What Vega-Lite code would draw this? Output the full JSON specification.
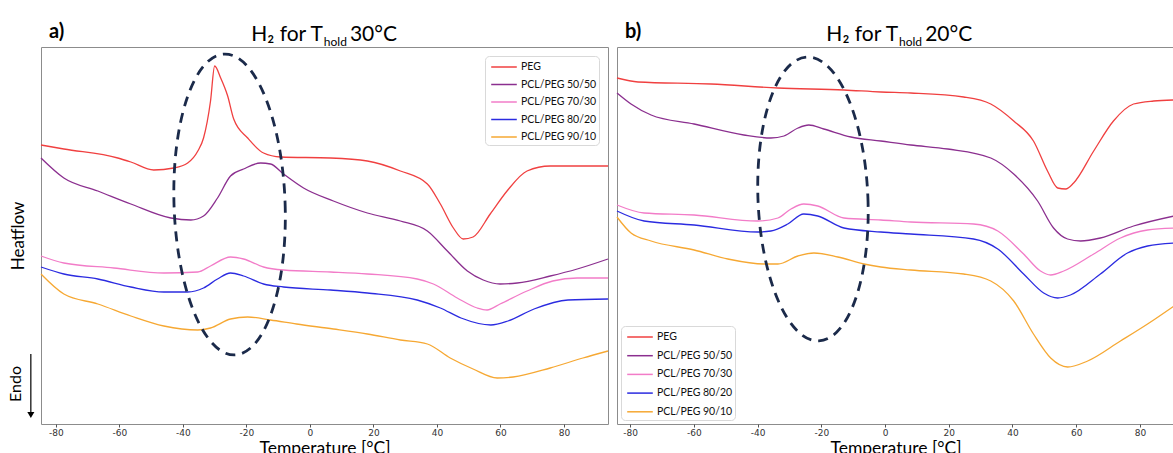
{
  "$schema": "https://vega.github.io/schema/vega-lite/v6.json",
  "padding": {"left": 7, "top": 21, "right": 0, "bottom": 0},
  "spacing": 9,
  "bounds": "flush",
  "background": "white",
  "config": {
    "view": {"stroke": "#8c8c8c", "strokeWidth": 1},
    "font": "Lato",
    "axis": {"grid": false, "domain": false, "labelFont": "DejaVu Sans", "labelFontSize": 9, "labelColor": "#333333", "tickColor": "#555555", "tickSize": 3, "labelPadding": 1, "titleFont": "Lato", "titleFontSize": 17.5, "titleFontWeight": "normal", "titleColor": "black", "titlePadding": 2},
    "legend": {"title": null, "symbolType": "M-0.6,0 H2.6", "symbolSize": 256, "symbolStrokeWidth": 1.5, "labelFont": "Lato", "labelFontSize": 10.5, "labelColor": "#111111", "labelOffset": 16, "strokeColor": "#d9d9d9", "fillColor": "white", "cornerRadius": 4, "padding": 2, "rowPadding": 2.5}
  },
  "datasets": {
    "a": [
      {"sample": "PEG", "temp": -84.7, "hf": 279}, {"sample": "PEG", "temp": -77.5, "hf": 275}, {"sample": "PEG", "temp": -60.5, "hf": 266}, {"sample": "PEG", "temp": -56.4, "hf": 262}, {"sample": "PEG", "temp": -49.2, "hf": 254}, {"sample": "PEG", "temp": -42.9, "hf": 256}, {"sample": "PEG", "temp": -38.5, "hf": 261}, {"sample": "PEG", "temp": -35.3, "hf": 273}, {"sample": "PEG", "temp": -33.5, "hf": 286}, {"sample": "PEG", "temp": -31.3, "hf": 323}, {"sample": "PEG", "temp": -30.0, "hf": 358}, {"sample": "PEG", "temp": -28.1, "hf": 346}, {"sample": "PEG", "temp": -25.9, "hf": 328}, {"sample": "PEG", "temp": -24.0, "hf": 305}, {"sample": "PEG", "temp": -19.6, "hf": 286}, {"sample": "PEG", "temp": -14.6, "hf": 271}, {"sample": "PEG", "temp": -9.2, "hf": 267}, {"sample": "PEG", "temp": 6.5, "hf": 266}, {"sample": "PEG", "temp": 18.1, "hf": 263}, {"sample": "PEG", "temp": 28.5, "hf": 253}, {"sample": "PEG", "temp": 37.0, "hf": 240}, {"sample": "PEG", "temp": 41.1, "hf": 220}, {"sample": "PEG", "temp": 45.2, "hf": 196}, {"sample": "PEG", "temp": 48.3, "hf": 185}, {"sample": "PEG", "temp": 51.4, "hf": 187}, {"sample": "PEG", "temp": 56.8, "hf": 210}, {"sample": "PEG", "temp": 62.1, "hf": 233}, {"sample": "PEG", "temp": 68.4, "hf": 253}, {"sample": "PEG", "temp": 75.7, "hf": 258}, {"sample": "PEG", "temp": 93.9, "hf": 258},
      {"sample": "PCL/PEG 50/50", "temp": -84.7, "hf": 266}, {"sample": "PCL/PEG 50/50", "temp": -77.5, "hf": 246}, {"sample": "PCL/PEG 50/50", "temp": -66.8, "hf": 233}, {"sample": "PCL/PEG 50/50", "temp": -56.4, "hf": 220}, {"sample": "PCL/PEG 50/50", "temp": -43.8, "hf": 206}, {"sample": "PCL/PEG 50/50", "temp": -37.5, "hf": 204}, {"sample": "PCL/PEG 50/50", "temp": -33.5, "hf": 208}, {"sample": "PCL/PEG 50/50", "temp": -29.1, "hf": 226}, {"sample": "PCL/PEG 50/50", "temp": -25.0, "hf": 248}, {"sample": "PCL/PEG 50/50", "temp": -20.9, "hf": 255}, {"sample": "PCL/PEG 50/50", "temp": -15.5, "hf": 261}, {"sample": "PCL/PEG 50/50", "temp": -12.4, "hf": 260}, {"sample": "PCL/PEG 50/50", "temp": -8.3, "hf": 250}, {"sample": "PCL/PEG 50/50", "temp": -2.0, "hf": 236}, {"sample": "PCL/PEG 50/50", "temp": 7.4, "hf": 223}, {"sample": "PCL/PEG 50/50", "temp": 18.1, "hf": 211}, {"sample": "PCL/PEG 50/50", "temp": 28.5, "hf": 203}, {"sample": "PCL/PEG 50/50", "temp": 37.0, "hf": 193}, {"sample": "PCL/PEG 50/50", "temp": 43.3, "hf": 173}, {"sample": "PCL/PEG 50/50", "temp": 49.6, "hf": 153}, {"sample": "PCL/PEG 50/50", "temp": 54.6, "hf": 144}, {"sample": "PCL/PEG 50/50", "temp": 59.9, "hf": 140}, {"sample": "PCL/PEG 50/50", "temp": 65.3, "hf": 141}, {"sample": "PCL/PEG 50/50", "temp": 75.7, "hf": 148}, {"sample": "PCL/PEG 50/50", "temp": 84.2, "hf": 155}, {"sample": "PCL/PEG 50/50", "temp": 93.9, "hf": 165},
      {"sample": "PCL/PEG 70/30", "temp": -84.7, "hf": 168}, {"sample": "PCL/PEG 70/30", "temp": -77.5, "hf": 161}, {"sample": "PCL/PEG 70/30", "temp": -61.8, "hf": 156}, {"sample": "PCL/PEG 70/30", "temp": -46.0, "hf": 151}, {"sample": "PCL/PEG 70/30", "temp": -35.3, "hf": 152}, {"sample": "PCL/PEG 70/30", "temp": -31.3, "hf": 158}, {"sample": "PCL/PEG 70/30", "temp": -25.0, "hf": 167}, {"sample": "PCL/PEG 70/30", "temp": -20.9, "hf": 165}, {"sample": "PCL/PEG 70/30", "temp": -14.6, "hf": 157}, {"sample": "PCL/PEG 70/30", "temp": -8.3, "hf": 154}, {"sample": "PCL/PEG 70/30", "temp": 6.5, "hf": 152}, {"sample": "PCL/PEG 70/30", "temp": 18.1, "hf": 150}, {"sample": "PCL/PEG 70/30", "temp": 33.8, "hf": 145}, {"sample": "PCL/PEG 70/30", "temp": 38.9, "hf": 140}, {"sample": "PCL/PEG 70/30", "temp": 46.4, "hf": 126}, {"sample": "PCL/PEG 70/30", "temp": 52.7, "hf": 116}, {"sample": "PCL/PEG 70/30", "temp": 55.8, "hf": 114}, {"sample": "PCL/PEG 70/30", "temp": 59.9, "hf": 120}, {"sample": "PCL/PEG 70/30", "temp": 68.4, "hf": 133}, {"sample": "PCL/PEG 70/30", "temp": 76.5, "hf": 143}, {"sample": "PCL/PEG 70/30", "temp": 84.2, "hf": 146}, {"sample": "PCL/PEG 70/30", "temp": 93.9, "hf": 146},
      {"sample": "PCL/PEG 80/20", "temp": -84.7, "hf": 157}, {"sample": "PCL/PEG 80/20", "temp": -77.5, "hf": 150}, {"sample": "PCL/PEG 80/20", "temp": -66.8, "hf": 145}, {"sample": "PCL/PEG 80/20", "temp": -56.4, "hf": 137}, {"sample": "PCL/PEG 80/20", "temp": -46.0, "hf": 132}, {"sample": "PCL/PEG 80/20", "temp": -38.5, "hf": 132}, {"sample": "PCL/PEG 80/20", "temp": -33.5, "hf": 136}, {"sample": "PCL/PEG 80/20", "temp": -29.1, "hf": 145}, {"sample": "PCL/PEG 80/20", "temp": -25.0, "hf": 151}, {"sample": "PCL/PEG 80/20", "temp": -20.9, "hf": 148}, {"sample": "PCL/PEG 80/20", "temp": -14.6, "hf": 140}, {"sample": "PCL/PEG 80/20", "temp": -8.3, "hf": 137}, {"sample": "PCL/PEG 80/20", "temp": 6.5, "hf": 134}, {"sample": "PCL/PEG 80/20", "temp": 18.1, "hf": 131}, {"sample": "PCL/PEG 80/20", "temp": 33.8, "hf": 124}, {"sample": "PCL/PEG 80/20", "temp": 41.1, "hf": 116}, {"sample": "PCL/PEG 80/20", "temp": 47.6, "hf": 106}, {"sample": "PCL/PEG 80/20", "temp": 57.0, "hf": 99}, {"sample": "PCL/PEG 80/20", "temp": 62.4, "hf": 103}, {"sample": "PCL/PEG 80/20", "temp": 70.6, "hf": 115}, {"sample": "PCL/PEG 80/20", "temp": 81.3, "hf": 124}, {"sample": "PCL/PEG 80/20", "temp": 93.9, "hf": 125},
      {"sample": "PCL/PEG 90/10", "temp": -84.7, "hf": 150}, {"sample": "PCL/PEG 90/10", "temp": -77.5, "hf": 130}, {"sample": "PCL/PEG 90/10", "temp": -66.8, "hf": 120}, {"sample": "PCL/PEG 90/10", "temp": -56.4, "hf": 108}, {"sample": "PCL/PEG 90/10", "temp": -46.0, "hf": 98}, {"sample": "PCL/PEG 90/10", "temp": -35.3, "hf": 94}, {"sample": "PCL/PEG 90/10", "temp": -31.3, "hf": 96}, {"sample": "PCL/PEG 90/10", "temp": -25.0, "hf": 105}, {"sample": "PCL/PEG 90/10", "temp": -19.6, "hf": 107}, {"sample": "PCL/PEG 90/10", "temp": -12.4, "hf": 104}, {"sample": "PCL/PEG 90/10", "temp": -4.2, "hf": 100}, {"sample": "PCL/PEG 90/10", "temp": 7.4, "hf": 95}, {"sample": "PCL/PEG 90/10", "temp": 18.1, "hf": 90}, {"sample": "PCL/PEG 90/10", "temp": 28.5, "hf": 84}, {"sample": "PCL/PEG 90/10", "temp": 37.0, "hf": 80}, {"sample": "PCL/PEG 90/10", "temp": 44.2, "hf": 66}, {"sample": "PCL/PEG 90/10", "temp": 51.4, "hf": 55}, {"sample": "PCL/PEG 90/10", "temp": 59.0, "hf": 46}, {"sample": "PCL/PEG 90/10", "temp": 64.0, "hf": 47}, {"sample": "PCL/PEG 90/10", "temp": 75.7, "hf": 56}, {"sample": "PCL/PEG 90/10", "temp": 86.0, "hf": 66}, {"sample": "PCL/PEG 90/10", "temp": 93.9, "hf": 73}
    ],
    "b": [
      {"sample": "PEG", "temp": -84.1, "hf": 346}, {"sample": "PEG", "temp": -77.5, "hf": 342}, {"sample": "PEG", "temp": -54.6, "hf": 340}, {"sample": "PEG", "temp": -33.6, "hf": 336}, {"sample": "PEG", "temp": -12.9, "hf": 334}, {"sample": "PEG", "temp": -1.3, "hf": 332}, {"sample": "PEG", "temp": 8.1, "hf": 331}, {"sample": "PEG", "temp": 24.7, "hf": 327}, {"sample": "PEG", "temp": 33.2, "hf": 320}, {"sample": "PEG", "temp": 40.4, "hf": 303}, {"sample": "PEG", "temp": 46.6, "hf": 283}, {"sample": "PEG", "temp": 51.0, "hf": 253}, {"sample": "PEG", "temp": 54.2, "hf": 236}, {"sample": "PEG", "temp": 56.7, "hf": 235}, {"sample": "PEG", "temp": 59.2, "hf": 241}, {"sample": "PEG", "temp": 65.5, "hf": 273}, {"sample": "PEG", "temp": 71.7, "hf": 303}, {"sample": "PEG", "temp": 78.0, "hf": 320}, {"sample": "PEG", "temp": 84.3, "hf": 323}, {"sample": "PEG", "temp": 90.7, "hf": 324},
      {"sample": "PCL/PEG 50/50", "temp": -84.1, "hf": 331}, {"sample": "PCL/PEG 50/50", "temp": -79.7, "hf": 320}, {"sample": "PCL/PEG 50/50", "temp": -73.4, "hf": 309}, {"sample": "PCL/PEG 50/50", "temp": -59.9, "hf": 300}, {"sample": "PCL/PEG 50/50", "temp": -44.3, "hf": 289}, {"sample": "PCL/PEG 50/50", "temp": -35.8, "hf": 286}, {"sample": "PCL/PEG 50/50", "temp": -31.7, "hf": 288}, {"sample": "PCL/PEG 50/50", "temp": -27.3, "hf": 296}, {"sample": "PCL/PEG 50/50", "temp": -23.9, "hf": 299}, {"sample": "PCL/PEG 50/50", "temp": -19.2, "hf": 295}, {"sample": "PCL/PEG 50/50", "temp": -10.7, "hf": 287}, {"sample": "PCL/PEG 50/50", "temp": -1.3, "hf": 283}, {"sample": "PCL/PEG 50/50", "temp": 8.1, "hf": 279}, {"sample": "PCL/PEG 50/50", "temp": 19.7, "hf": 275}, {"sample": "PCL/PEG 50/50", "temp": 33.2, "hf": 266}, {"sample": "PCL/PEG 50/50", "temp": 40.4, "hf": 250}, {"sample": "PCL/PEG 50/50", "temp": 47.9, "hf": 223}, {"sample": "PCL/PEG 50/50", "temp": 52.9, "hf": 196}, {"sample": "PCL/PEG 50/50", "temp": 57.3, "hf": 185}, {"sample": "PCL/PEG 50/50", "temp": 61.4, "hf": 183}, {"sample": "PCL/PEG 50/50", "temp": 67.6, "hf": 186}, {"sample": "PCL/PEG 50/50", "temp": 78.0, "hf": 198}, {"sample": "PCL/PEG 50/50", "temp": 90.7, "hf": 208},
      {"sample": "PCL/PEG 70/30", "temp": -84.1, "hf": 219}, {"sample": "PCL/PEG 70/30", "temp": -75.6, "hf": 211}, {"sample": "PCL/PEG 70/30", "temp": -59.9, "hf": 209}, {"sample": "PCL/PEG 70/30", "temp": -39.9, "hf": 203}, {"sample": "PCL/PEG 70/30", "temp": -33.6, "hf": 206}, {"sample": "PCL/PEG 70/30", "temp": -29.5, "hf": 215}, {"sample": "PCL/PEG 70/30", "temp": -25.5, "hf": 220}, {"sample": "PCL/PEG 70/30", "temp": -21.1, "hf": 218}, {"sample": "PCL/PEG 70/30", "temp": -12.9, "hf": 206}, {"sample": "PCL/PEG 70/30", "temp": -1.3, "hf": 204}, {"sample": "PCL/PEG 70/30", "temp": 8.1, "hf": 202}, {"sample": "PCL/PEG 70/30", "temp": 27.8, "hf": 200}, {"sample": "PCL/PEG 70/30", "temp": 35.4, "hf": 193}, {"sample": "PCL/PEG 70/30", "temp": 43.5, "hf": 170}, {"sample": "PCL/PEG 70/30", "temp": 48.8, "hf": 153}, {"sample": "PCL/PEG 70/30", "temp": 52.0, "hf": 149}, {"sample": "PCL/PEG 70/30", "temp": 56.1, "hf": 153}, {"sample": "PCL/PEG 70/30", "temp": 65.5, "hf": 170}, {"sample": "PCL/PEG 70/30", "temp": 73.9, "hf": 186}, {"sample": "PCL/PEG 70/30", "temp": 82.4, "hf": 194}, {"sample": "PCL/PEG 70/30", "temp": 90.7, "hf": 196},
      {"sample": "PCL/PEG 80/20", "temp": -84.1, "hf": 213}, {"sample": "PCL/PEG 80/20", "temp": -75.6, "hf": 203}, {"sample": "PCL/PEG 80/20", "temp": -59.9, "hf": 199}, {"sample": "PCL/PEG 80/20", "temp": -39.9, "hf": 192}, {"sample": "PCL/PEG 80/20", "temp": -35.8, "hf": 193}, {"sample": "PCL/PEG 80/20", "temp": -30.5, "hf": 200}, {"sample": "PCL/PEG 80/20", "temp": -25.5, "hf": 210}, {"sample": "PCL/PEG 80/20", "temp": -21.1, "hf": 208}, {"sample": "PCL/PEG 80/20", "temp": -12.9, "hf": 196}, {"sample": "PCL/PEG 80/20", "temp": -1.3, "hf": 192}, {"sample": "PCL/PEG 80/20", "temp": 8.1, "hf": 190}, {"sample": "PCL/PEG 80/20", "temp": 27.8, "hf": 185}, {"sample": "PCL/PEG 80/20", "temp": 35.4, "hf": 175}, {"sample": "PCL/PEG 80/20", "temp": 43.5, "hf": 150}, {"sample": "PCL/PEG 80/20", "temp": 49.8, "hf": 131}, {"sample": "PCL/PEG 80/20", "temp": 54.2, "hf": 126}, {"sample": "PCL/PEG 80/20", "temp": 58.2, "hf": 129}, {"sample": "PCL/PEG 80/20", "temp": 67.6, "hf": 150}, {"sample": "PCL/PEG 80/20", "temp": 76.1, "hf": 171}, {"sample": "PCL/PEG 80/20", "temp": 82.4, "hf": 178}, {"sample": "PCL/PEG 80/20", "temp": 90.7, "hf": 181},
      {"sample": "PCL/PEG 90/10", "temp": -84.1, "hf": 207}, {"sample": "PCL/PEG 90/10", "temp": -79.7, "hf": 191}, {"sample": "PCL/PEG 90/10", "temp": -73.4, "hf": 183}, {"sample": "PCL/PEG 90/10", "temp": -59.9, "hf": 174}, {"sample": "PCL/PEG 90/10", "temp": -49.3, "hf": 165}, {"sample": "PCL/PEG 90/10", "temp": -38.0, "hf": 160}, {"sample": "PCL/PEG 90/10", "temp": -33.6, "hf": 160}, {"sample": "PCL/PEG 90/10", "temp": -27.3, "hf": 168}, {"sample": "PCL/PEG 90/10", "temp": -22.3, "hf": 171}, {"sample": "PCL/PEG 90/10", "temp": -14.8, "hf": 167}, {"sample": "PCL/PEG 90/10", "temp": -6.6, "hf": 160}, {"sample": "PCL/PEG 90/10", "temp": -1.3, "hf": 157}, {"sample": "PCL/PEG 90/10", "temp": 8.1, "hf": 154}, {"sample": "PCL/PEG 90/10", "temp": 24.7, "hf": 150}, {"sample": "PCL/PEG 90/10", "temp": 33.2, "hf": 143}, {"sample": "PCL/PEG 90/10", "temp": 40.4, "hf": 123}, {"sample": "PCL/PEG 90/10", "temp": 46.6, "hf": 90}, {"sample": "PCL/PEG 90/10", "temp": 52.0, "hf": 66}, {"sample": "PCL/PEG 90/10", "temp": 57.3, "hf": 57}, {"sample": "PCL/PEG 90/10", "temp": 63.6, "hf": 63}, {"sample": "PCL/PEG 90/10", "temp": 73.9, "hf": 83}, {"sample": "PCL/PEG 90/10", "temp": 82.4, "hf": 100}, {"sample": "PCL/PEG 90/10", "temp": 90.7, "hf": 118}
    ]
  },
  "hconcat": [
    {
      "width": 567,
      "height": 377,
      "layer": [
        {
          "data": {"name": "a"},
          "mark": {"type": "line", "interpolate": "monotone", "strokeWidth": 1.3},
          "encoding": {
            "x": {"field": "temp", "type": "quantitative", "scale": {"domain": [-84.7, 93.9], "nice": false, "zero": false}, "axis": {"values": [-80, -60, -40, -20, 0, 20, 40, 60, 80], "labelExpr": "replace(datum.label, '−', '-')", "title": "Temperature [°C]"}},
            "y": {"field": "hf", "type": "quantitative", "scale": {"domain": [0, 377], "nice": false, "zero": false}, "axis": {"title": "Heatflow", "labels": false, "ticks": false, "titleFontSize": 17, "titlePadding": 14}},
            "color": {"field": "sample", "type": "nominal", "scale": {"domain": ["PEG", "PCL/PEG 50/50", "PCL/PEG 70/30", "PCL/PEG 80/20", "PCL/PEG 90/10"], "range": ["#f04040", "#8b2f8f", "#f27cc8", "#2b2be0", "#f6a833"]}, "legend": {"orient": "top-right", "offset": 9}}
          }
        },
        {
          "data": {"values": [{}]},
          "mark": {"type": "point", "shape": "M0.369,0 C0.369,0.5523 0.2038,1 0,1 C-0.2038,1 -0.369,0.5523 -0.369,0 C-0.369,-0.5523 -0.2038,-1 0,-1 C0.2038,-1 0.369,-0.5523 0.369,0 Z", "size": 90601, "filled": false, "stroke": "#1b2a4a", "strokeWidth": 2.8, "strokeDash": [10, 7], "angle": -2, "opacity": 1},
          "encoding": {"x": {"datum": -25.3, "type": "quantitative"}, "y": {"datum": 219.5, "type": "quantitative"}}
        },
        {
          "data": {"values": [{}]},
          "mark": {"type": "text", "text": "a)", "fontSize": 20, "fontWeight": "bold", "align": "left", "baseline": "alphabetic", "color": "black"},
          "encoding": {"x": {"datum": -82.2, "type": "quantitative"}, "y": {"datum": 386, "type": "quantitative"}}
        },
        {
          "data": {"values": [{}]},
          "mark": {"type": "text", "text": "H₂ for T", "fontSize": 21, "align": "right", "baseline": "alphabetic", "color": "black"},
          "encoding": {"x": {"datum": 4.1, "type": "quantitative"}, "y": {"datum": 383, "type": "quantitative"}}
        },
        {
          "data": {"values": [{}]},
          "mark": {"type": "text", "text": "hold", "fontSize": 12, "align": "left", "baseline": "alphabetic", "color": "black"},
          "encoding": {"x": {"datum": 4.4, "type": "quantitative"}, "y": {"datum": 378, "type": "quantitative"}}
        },
        {
          "data": {"values": [{}]},
          "mark": {"type": "text", "text": "30°C", "fontSize": 21, "align": "left", "baseline": "alphabetic", "color": "black"},
          "encoding": {"x": {"datum": 12.6, "type": "quantitative"}, "y": {"datum": 383, "type": "quantitative"}}
        },
        {
          "data": {"values": [{}]},
          "mark": {"type": "text", "text": "Endo", "fontSize": 16, "angle": 270, "align": "center", "baseline": "middle", "color": "black"},
          "encoding": {"x": {"datum": -92.6, "type": "quantitative"}, "y": {"datum": 40, "type": "quantitative"}}
        },
        {
          "data": {"values": [{}]},
          "mark": {"type": "rule", "color": "black", "strokeWidth": 1.2},
          "encoding": {"x": {"datum": -87.9, "type": "quantitative"}, "y": {"datum": 70, "type": "quantitative"}, "y2": {"datum": 12}}
        },
        {
          "data": {"values": [{}]},
          "mark": {"type": "point", "shape": "triangle-down", "filled": true, "size": 50, "color": "black", "opacity": 1},
          "encoding": {"x": {"datum": -87.9, "type": "quantitative"}, "y": {"datum": 9, "type": "quantitative"}}
        }
      ]
    },
    {
      "width": 557,
      "height": 377,
      "layer": [
        {
          "data": {"name": "b"},
          "mark": {"type": "line", "interpolate": "monotone", "strokeWidth": 1.3},
          "encoding": {
            "x": {"field": "temp", "type": "quantitative", "scale": {"domain": [-84.1, 90.7], "nice": false, "zero": false}, "axis": {"values": [-80, -60, -40, -20, 0, 20, 40, 60, 80], "labelExpr": "replace(datum.label, '−', '-')", "title": "Temperature [°C]"}},
            "y": {"field": "hf", "type": "quantitative", "scale": {"domain": [0, 377], "nice": false, "zero": false}, "axis": null},
            "color": {"field": "sample", "type": "nominal", "scale": {"domain": ["PEG", "PCL/PEG 50/50", "PCL/PEG 70/30", "PCL/PEG 80/20", "PCL/PEG 90/10"], "range": ["#f04040", "#8b2f8f", "#f27cc8", "#2b2be0", "#f6a833"]}, "legend": {"orient": "bottom-left", "offset": 4, "rowPadding": 3.7}}
          }
        },
        {
          "data": {"values": [{}]},
          "mark": {"type": "point", "shape": "M0.387,0 C0.387,0.5523 0.2137,1 0,1 C-0.2137,1 -0.387,0.5523 -0.387,0 C-0.387,-0.5523 -0.2137,-1 0,-1 C0.2137,-1 0.387,-0.5523 0.387,0 Z", "size": 80656, "filled": false, "stroke": "#1b2a4a", "strokeWidth": 2.8, "strokeDash": [10, 7], "angle": -2.4, "opacity": 1},
          "encoding": {"x": {"datum": -22.6, "type": "quantitative"}, "y": {"datum": 225, "type": "quantitative"}}
        },
        {
          "data": {"values": [{}]},
          "mark": {"type": "text", "text": "b)", "fontSize": 20, "fontWeight": "bold", "align": "left", "baseline": "alphabetic", "color": "black"},
          "encoding": {"x": {"datum": -81.6, "type": "quantitative"}, "y": {"datum": 386, "type": "quantitative"}}
        },
        {
          "data": {"values": [{}]},
          "mark": {"type": "text", "text": "H₂ for T", "fontSize": 21, "align": "right", "baseline": "alphabetic", "color": "black"},
          "encoding": {"x": {"datum": 4.1, "type": "quantitative"}, "y": {"datum": 383, "type": "quantitative"}}
        },
        {
          "data": {"values": [{}]},
          "mark": {"type": "text", "text": "hold", "fontSize": 12, "align": "left", "baseline": "alphabetic", "color": "black"},
          "encoding": {"x": {"datum": 4.4, "type": "quantitative"}, "y": {"datum": 378, "type": "quantitative"}}
        },
        {
          "data": {"values": [{}]},
          "mark": {"type": "text", "text": "20°C", "fontSize": 21, "align": "left", "baseline": "alphabetic", "color": "black"},
          "encoding": {"x": {"datum": 12.6, "type": "quantitative"}, "y": {"datum": 383, "type": "quantitative"}}
        }
      ]
    }
  ]
}
